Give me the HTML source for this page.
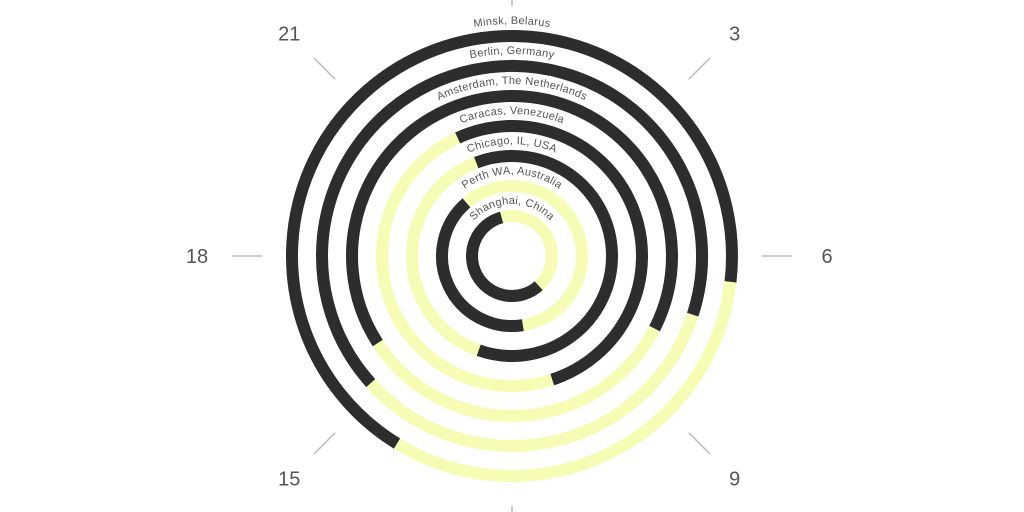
<!DOCTYPE html>
<html><head><meta charset="utf-8"><style>
html,body{margin:0;padding:0;background:#fff;}
svg{display:block;font-family:"Liberation Sans",sans-serif;}
</style></head><body>
<svg id="chart" width="1024" height="512"></svg>
<script>
const cities = ["Minsk, Belarus","Berlin, Germany","Amsterdam, The Netherlands","Caracas, Venezuela","Chicago, IL, USA","Perth WA, Australia","Shanghai, China"];
const sunrise = [6.45, 7.2, 7.8, 10.8, 13.3, 21.3, 23.0];
const sunset = [14.1, 15.2, 15.8, 22.35, 22.6, 11.4, 9.2];
const hourTicks = [0,3,6,9,12,15,18,21];
const hourLabels = ["","3","6","9","","15","18","21"];

const NS="http://www.w3.org/2000/svg";
const svg=document.getElementById('chart');
const cx=512, cy=256;
function ang(h){return h/24*2*Math.PI;}
function pt(r,h){const a=ang(h);return [cx+r*Math.sin(a), cy-r*Math.cos(a)];}
function rScale(i){return 220-30*i;}
function arcPath(r,h0,h1){
  let span=h1-h0; if(span<=0) span+=24;
  const p0=pt(r,h0), p1=pt(r,h0+span);
  const large=span>12?1:0;
  return `M${p0[0]},${p0[1]} A${r},${r} 0 ${large} 1 ${p1[0]},${p1[1]}`;
}
function mk(tag,attrs){const e=document.createElementNS(NS,tag);for(const k in attrs)e.setAttribute(k,attrs[k]);svg.appendChild(e);return e;}

hourTicks.forEach((h,i)=>{
  const a=pt(250,h), b=pt(280,h);
  const l=mk('line',{x1:a[0],y1:a[1],x2:b[0],y2:b[1],stroke:'#bbb','stroke-width':1.5});
  
  
  if(hourLabels[i]){
    const p=pt(315,h);
    const t=mk('text',{x:p[0],y:p[1]+7,'text-anchor':'middle','font-size':20,fill:'#555'});
    t.textContent=hourLabels[i];
    
    
  }
});

cities.forEach((c,i)=>{
  const r=rScale(i);
  const night=mk('path',{d:arcPath(r,sunset[i],sunrise[i]),fill:'none',stroke:'#2d2d2d','stroke-width':12});
  
  
  const day=mk('path',{d:arcPath(r,sunrise[i],sunset[i]),fill:'none',stroke:'#f6fcb4','stroke-width':12});
  
  
  const lr=r+12;
  const gp=mk('path',{id:'lp'+i,d:`M${cx-lr},${cy} A${lr},${lr} 0 0 1 ${cx+lr},${cy}`,fill:'none',stroke:'none'});
  const t=mk('text',{'font-size':11,fill:'#555','letter-spacing':0.3});
  
  
  const tp=document.createElementNS(NS,'textPath');
  tp.setAttribute('href','#lp'+i);
  tp.setAttribute('startOffset','50%');
  tp.setAttribute('text-anchor','middle');
  tp.textContent=c;
  t.appendChild(tp);
});
</script>
</body></html>
